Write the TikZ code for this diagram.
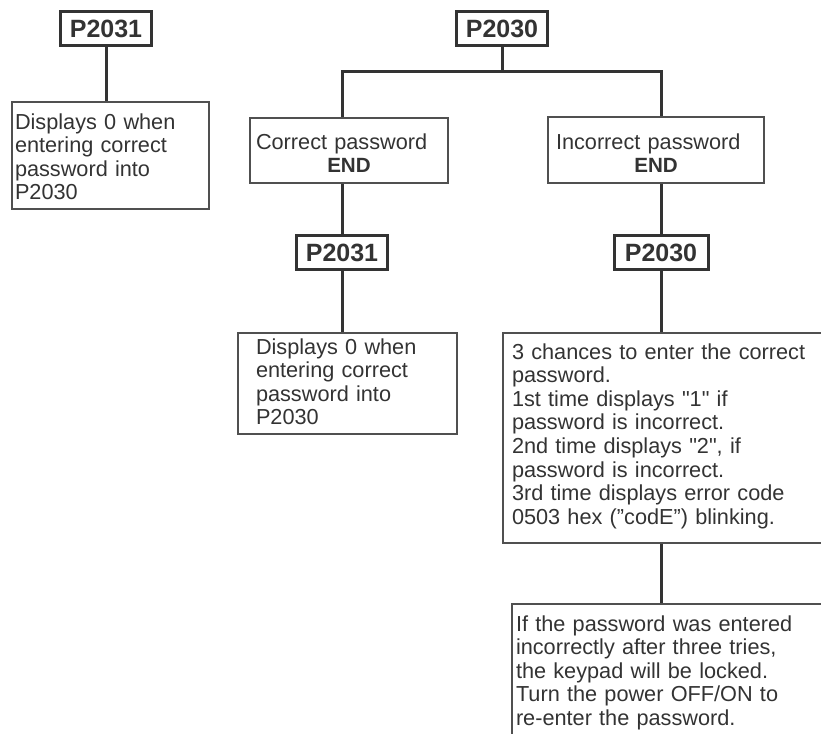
\documentclass[tikz,border=0pt]{standalone}
\usepackage{fontspec}
\setmainfont{Liberation Sans}
\usepackage{tikz}
\usetikzlibrary{positioning,calc}
\definecolor{ink}{HTML}{333333}
\definecolor{rim}{HTML}{505050}
\tikzset{
  pbox/.style={
    draw = ink,
    line width = 3pt,
    text = ink,
    font = \fontsize{25}{25}\selectfont\bfseries,
    inner sep = 0pt,
    minimum width = 91pt,
    minimum height = 34pt
  },
  note/.style={
    draw = rim,
    line width = 2pt,
    anchor = north west,
    inner ysep = 0pt,
    align = left,
    text = ink,
    font = \fontsize{21.7}{23.6}\selectfont
  },
  link/.style={
    draw = ink,
    line width = 3pt
  }
}
\newcommand{\stopword}{\makebox[\linewidth]{\fontsize{20.6}{23.6}\selectfont\bfseries END}}
\newcommand{\sq}[1]{\textquotedbl#1\textquotedbl}

\begin{document}
\begin{tikzpicture}[x=1pt, y=-1pt]
  \useasboundingbox (0,0) rectangle (821,733);
  \clip (0,0) rectangle (821,733);
  % left column
  \node[pbox] (pLeft) at (106,29) {P2031};
  \node[note, inner xsep=3pt, text width=191pt, text height=27pt, text depth=80pt] (noteLeft) at (11,101)
    {Displays 0 when\\entering correct\\password into\\P2030};
  % main tree
  \node[pbox] (pTop) at (502,29) {P2030};
  \node[note, inner xsep=6pt, text width=186pt, text height=31pt, text depth=34pt] (corr) at (249,117)
    {Correct password\\\stopword};
  \node[note, inner xsep=8pt, text width=200pt, text height=32pt, text depth=34pt] (incorr) at (547,116)
    {Incorrect password\\\stopword};
  \node[pbox] (pMidL) at (342,252.5) {P2031};
  \node[pbox, minimum width=94pt] (pMidR) at (661,252.5) {P2030};
  \node[note, inner xsep=18pt, text width=183pt, text height=21pt, text depth=80pt] (noteMid) at (237,332)
    {Displays 0 when\\entering correct\\password into\\P2030};
  \node[note, inner xsep=9pt, text width=320pt, text height=26pt, text depth=184pt] (tries) at (502,332)
    {3 chances to enter the correct\\password.\\1st time displays \sq{1} if\\password is incorrect.\\2nd time displays \sq{2}, if\\password is incorrect.\\3rd time displays error code\\0503 hex (”codE”) blinking.};
  \node[note, inner xsep=4pt, text width=321pt, text height=27pt, text depth=130pt] (lock) at (511,603)
    {If the password was entered\\incorrectly after three tries,\\the keypad will be locked.\\Turn the power OFF/ON to\\re-enter the password.};

  \draw[link] (pLeft.south) -- (pLeft.south |- noteLeft.north);
  \draw[link] (pTop.south) -- ++(0,24) coordinate (split);
  \draw[link] (pMidL |- corr.north) |- (split) -| (pMidR |- incorr.north);
  \draw[link] (pMidL |- corr.south) -- (pMidL.north);
  \draw[link] (pMidL.south) -- (pMidL |- noteMid.north);
  \draw[link] (pMidR |- incorr.south) -- (pMidR.north);
  \draw[link] (pMidR.south) -- (pMidR |- tries.north);
  \draw[link] (pMidR |- tries.south) -- (pMidR |- lock.north);
\end{tikzpicture}
\end{document}
